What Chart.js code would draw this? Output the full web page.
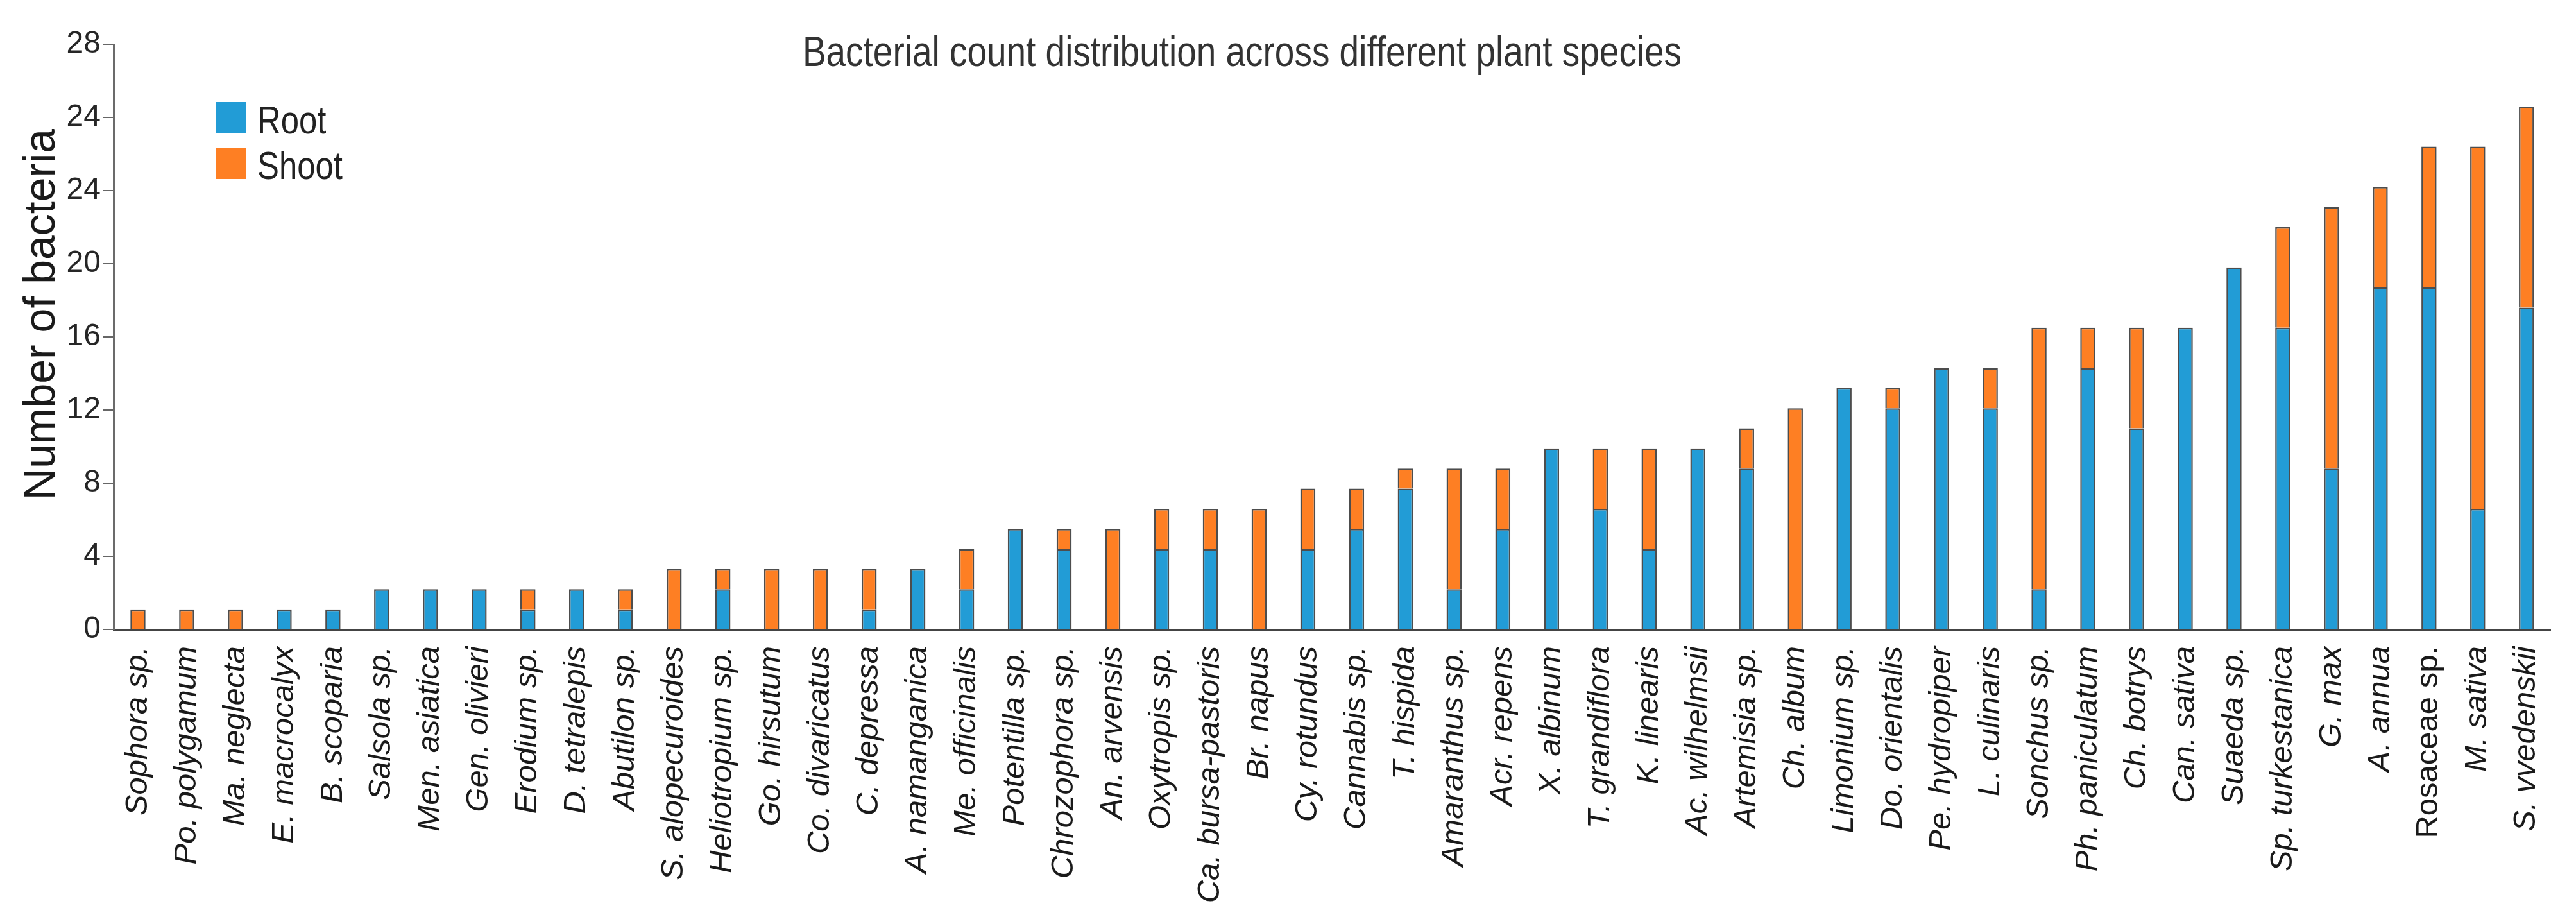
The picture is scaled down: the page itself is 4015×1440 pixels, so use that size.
<!DOCTYPE html>
<html>
<head>
<meta charset="utf-8">
<title>Bacterial count distribution across different plant species</title>
<script src="https://cdn.jsdelivr.net/npm/chart.js@4.4.1/dist/chart.umd.min.js"></script>
<style>
  html, body { margin: 0; padding: 0; background: #fff; }
  #wrap { width: 4015px; height: 1440px; }
</style>
</head>
<body>
<div id="wrap"><canvas id="myChart" width="4015" height="1440"></canvas></div>
<script>
  // values, in axis units
  const species = [
    'Sophora sp.', 'Po. polygamum', 'Ma. neglecta', 'E. macrocalyx', 'B. scoparia',
    'Salsola sp.', 'Men. asiatica', 'Gen. olivieri', 'Erodium sp.', 'D. tetralepis',
    'Abutilon sp.', 'S. alopecuroides', 'Heliotropium sp.', 'Go. hirsutum', 'Co. divaricatus',
    'C. depressa', 'A. namanganica', 'Me. officinalis', 'Potentilla sp.', 'Chrozophora sp.',
    'An. arvensis', 'Oxytropis sp.', 'Ca. bursa-pastoris', 'Br. napus', 'Cy. rotundus',
    'Cannabis sp.', 'T. hispida', 'Amaranthus sp.', 'Acr. repens', 'X. albinum',
    'T. grandiflora', 'K. linearis', 'Ac. wilhelmsii', 'Artemisia sp.', 'Ch. album',
    'Limonium sp.', 'Do. orientalis', 'Pe. hydropiper', 'L. culinaris', 'Sonchus sp.',
    'Ph. paniculatum', 'Ch. botrys', 'Can. sativa', 'Suaeda sp.', 'Sp. turkestanica',
    'G. max', 'A. annua', 'Rosaceae sp.', 'M. sativa', 'S. vvedenskii'
  ];

  const rootCounts = [
    0, 0, 0, 1.1, 1.1, 2.2, 2.2, 2.2, 1.1, 2.2,
    1.1, 0, 2.2, 0, 0, 1.1, 3.3, 2.2, 5.5, 4.4,
    0, 4.4, 4.4, 0, 4.4, 5.5, 7.7, 2.2, 5.5, 9.9,
    6.6, 4.4, 9.9, 8.8, 0, 13.2, 12.1, 14.3, 12.1, 2.2,
    14.3, 11, 16.5, 19.8, 16.5, 8.8, 18.7, 18.7, 6.6, 17.6
  ];

  const shootCounts = [
    1.1, 1.1, 1.1, 0, 0, 0, 0, 0, 1.1, 0,
    1.1, 3.3, 1.1, 3.3, 3.3, 2.2, 0, 2.2, 0, 1.1,
    5.5, 2.2, 2.2, 6.6, 3.3, 2.2, 1.1, 6.6, 3.3, 0,
    3.3, 5.5, 0, 2.2, 12.1, 0, 1.1, 0, 2.2, 14.3,
    2.2, 5.5, 0, 0, 5.5, 14.3, 5.5, 7.7, 19.8, 11
  ];

  // tick labels exactly as printed on the original axis
  const yTickLabels = ['0', '4', '8', '12', '16', '20', '24', '24', '28'];
  const uprightLabels = ['Rosaceae sp.'];

  const chartTitle = 'Bacterial count distribution across different plant species';
  const yAxisTitle = 'Number of bacteria';

  const SANS = "'Liberation Sans', Arial, sans-serif";
  const NARROW_SCALE = 0.82; // the title and legend use a condensed face

  function narrowText(ctx, text, x, y, align) {
    ctx.save();
    ctx.scale(NARROW_SCALE, 1);
    ctx.textAlign = align;
    ctx.fillText(text, x / NARROW_SCALE, y);
    ctx.restore();
  }

  // title, y title and the in-plot legend
  const decorations = {
    id: 'decorations',
    afterDraw(chart) {
      const ctx = chart.ctx;
      const area = chart.chartArea;
      ctx.save();
      ctx.textBaseline = 'alphabetic';

      ctx.fillStyle = '#333';
      ctx.font = '67px ' + SANS;
      narrowText(ctx, chartTitle, 1936, 103, 'center');

      ctx.save();
      ctx.translate(85, 490);
      ctx.rotate(-Math.PI / 2);
      ctx.fillStyle = '#1a1a1a';
      ctx.font = '68px ' + SANS;
      ctx.textAlign = 'center';
      ctx.fillText(yAxisTitle, 0, 0);
      ctx.restore();

      ctx.font = '62px ' + SANS;
      chart.data.datasets.forEach((ds, i) => {
        const top = area.top + 90 + i * 71;
        ctx.fillStyle = ds.backgroundColor;
        ctx.fillRect(area.left + 160, top, 46, 49);
        ctx.fillStyle = '#222';
        narrowText(ctx, ds.label, area.left + 224, top + 49, 'left');
      });

      ctx.restore();
    }
  };

  const ctx = document.getElementById('myChart').getContext('2d');
  const myChart = new Chart(ctx, {
    type: 'bar',
    data: {
      labels: species,
      datasets: [
        {
          label: 'Root',
          data: rootCounts,
          backgroundColor: '#229cd6',
          borderColor: '#4d4d4d',
          borderWidth: 2.5
        },
        {
          label: 'Shoot',
          data: shootCounts,
          backgroundColor: '#fe7f23',
          borderColor: '#4d4d4d',
          borderWidth: 2.5
        }
      ]
    },
    options: {
      responsive: false,
      devicePixelRatio: 1,
      animation: false,
      layout: { padding: { top: 69, right: 38, left: 0, bottom: 0 } },
      datasets: { bar: { categoryPercentage: 1, barPercentage: 0.31 } },
      scales: {
        x: {
          stacked: true,
          offset: true,
          grid: { display: false },
          border: { display: true, color: '#444', width: 3 },
          ticks: {
            autoSkip: false,
            minRotation: 90,
            maxRotation: 90,
            padding: 18,
            color: '#1a1a1a',
            font: c => ({
              family: SANS,
              size: 49,
              style: uprightLabels.includes(species[c.index]) ? 'normal' : 'italic'
            })
          },
          afterFit: scale => { scale.height = 459; }
        },
        y: {
          stacked: true,
          min: 0,
          max: 32,
          ticks: {
            stepSize: 4,
            padding: 4,
            color: '#262626',
            font: { family: SANS, size: 48 },
            callback: (value, index) => yTickLabels[index]
          },
          grid: { drawOnChartArea: false, drawTicks: true, tickLength: 16, color: '#666', lineWidth: 2 },
          border: { display: true, color: '#6b6b6b', width: 3 },
          afterFit: scale => { scale.width = 177; }
        }
      },
      plugins: {
        legend: { display: false },
        title: { display: false },
        tooltip: { enabled: false }
      }
    },
    plugins: [decorations]
  });
</script>
</body>
</html>
